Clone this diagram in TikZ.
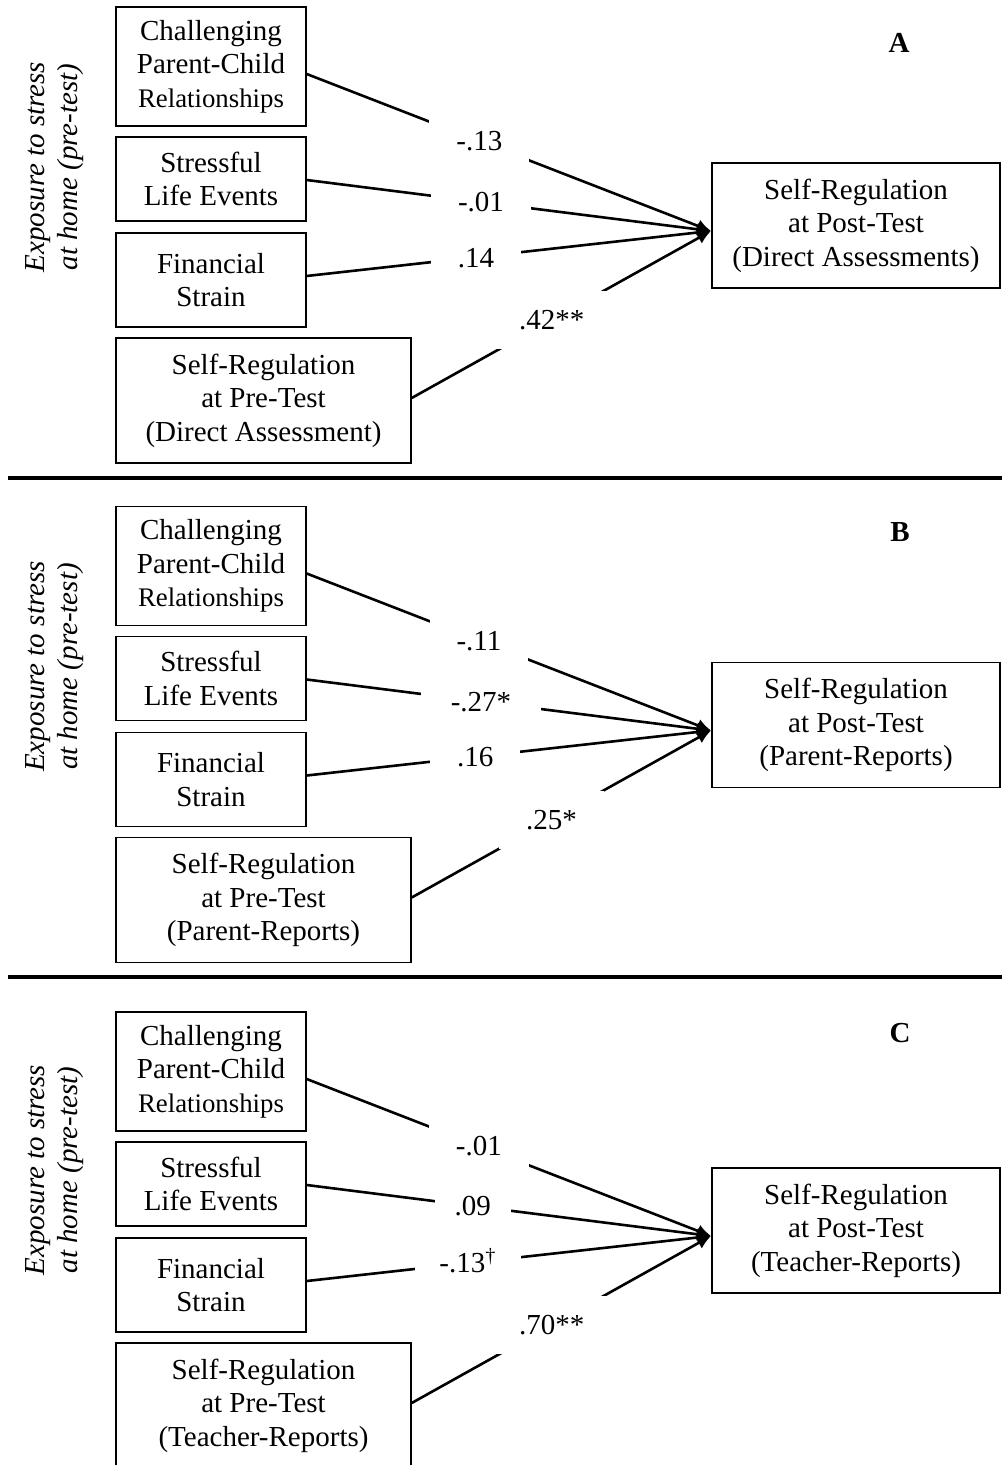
\documentclass[tikz,border=0pt]{standalone}
\usepackage{fontspec}
\setmainfont{Liberation Serif}
\usetikzlibrary{arrows.meta,calc}
\begin{document}
\begin{tikzpicture}[x=0.5pt,y=-0.5pt,
  box/.style={draw,line width=0.7pt,inner sep=0pt,align=center,
    font=\fontsize{14.5}{16.75}\selectfont},
  inbox/.style={box,minimum width=95pt},
  prebox/.style={box,minimum width=147.5pt,minimum height=62.5pt},
  postbox/.style={box,minimum width=144pt,minimum height=62.5pt},
  lbl/.style={fill=white,inner xsep=13.5pt,inner ysep=0pt,minimum height=29pt,
    text height=9.9pt,text depth=0pt,font=\fontsize{14.5}{17}\selectfont},
  conn/.style={line width=1.3pt,-{Latex[length=7pt,width=6.5pt]}},
  sepline/.style={line width=2pt},
  ptitle/.style={font=\fontsize{14.5}{17}\selectfont\bfseries},
  side/.style={rotate=90,align=center,font=\fontsize{14.5}{16.5}\selectfont\itshape}]
\clip (0,0) rectangle (1002,1465);
\newcommand\relsmall{{\fontsize{13.4}{16}\selectfont Relationships}}

% ---------------- Panel A ----------------
\node[side] (sa) at (55,167) {Exposure to stress\\at home (pre-test)};
\node[ptitle] (ta) at (899,43) {A};
\node[inbox,minimum height=59.5pt] (a1) at (211,66.5) {Challenging\\Parent-Child\\\relsmall};
\node[inbox,minimum height=42pt] (a2) at (211,179) {Stressful\\Life Events};
\node[inbox,minimum height=47pt] (a3) at (211,280) {Financial\\Strain};
\node[prebox] (a4) at (263.5,400.5) {Self-Regulation\\at Pre-Test\\(Direct Assessment)};
\node[postbox] (ap) at (856,225.5) {Self-Regulation\\at Post-Test\\(Direct Assessments)};
\coordinate (at) at (711,231);
\draw[conn] ($(a1.east)+(0,7.5)$) -- node[lbl,pos=.427] {-.13} (at);
\draw[conn] ($(a2.east)+(0,1)$) -- node[lbl,pos=.431] {-.01} (at);
\draw[conn] ($(a3.east)+(0,-4)$) -- node[lbl,pos=.419] {.14} (at);
\draw[conn] ($(a4.east)+(0,-2.5)$) -- node[lbl,pos=.468] {.42**} (at);
\coordinate (s1l) at (8,477.5);
\coordinate (s1r) at (1002,477.5);
\draw[sepline] (s1l) -- (s1r);

% ---------------- Panel B ----------------
\begin{scope}[shift={(0,499.5)}]
\node[side] (sb) at (55,167) {Exposure to stress\\at home (pre-test)};
\node[ptitle] (tb) at (900,32.5) {B};
\node[inbox,minimum height=59.5pt] (b1) at (211,66.5) {Challenging\\Parent-Child\\\relsmall};
\node[inbox,minimum height=42pt] (b2) at (211,179) {Stressful\\Life Events};
\node[inbox,minimum height=47pt] (b3) at (211,280) {Financial\\Strain};
\node[prebox] (b4) at (263.5,400.5) {Self-Regulation\\at Pre-Test\\(Parent-Reports)};
\node[postbox] (bp) at (856,225.5) {Self-Regulation\\at Post-Test\\(Parent-Reports)};
\coordinate (bt) at (711,231);
\draw[conn] ($(b1.east)+(0,7.5)$) -- node[lbl,pos=.426] {-.11} (bt);
\draw[conn] ($(b2.east)+(0,1)$) -- node[lbl,pos=.431,inner xsep=15pt] {-.27*} (bt);
\draw[conn] ($(b3.east)+(0,-4)$) -- node[lbl,pos=.417] {.16} (bt);
\draw[conn] ($(b4.east)+(0,-2.5)$) -- node[lbl,pos=.467] {.25*} (bt);
\coordinate (s2l) at (8,477.5);
\coordinate (s2r) at (1002,477.5);
\draw[sepline] (s2l) -- (s2r);
\end{scope}

% ---------------- Panel C ----------------
\begin{scope}[shift={(0,1005)}]
\node[side] (sc) at (55,165) {Exposure to stress\\at home (pre-test)};
\node[ptitle] (tc) at (900,28) {C};
\node[inbox,minimum height=59.5pt] (c1) at (211,66.5) {Challenging\\Parent-Child\\\relsmall};
\node[inbox,minimum height=42pt] (c2) at (211,179) {Stressful\\Life Events};
\node[inbox,minimum height=47pt] (c3) at (211,280) {Financial\\Strain};
\node[prebox] (c4) at (263.5,400.5) {Self-Regulation\\at Pre-Test\\(Teacher-Reports)};
\node[postbox] (cp) at (856,225.5) {Self-Regulation\\at Post-Test\\(Teacher-Reports)};
\coordinate (ct) at (711,231);
\draw[conn] ($(c1.east)+(0,7.5)$) -- node[lbl,pos=.426] {-.01} (ct);
\draw[conn] ($(c2.east)+(0,1)$) -- node[lbl,pos=.411,inner xsep=10pt] {.09} (ct);
\draw[conn] ($(c3.east)+(0,-4)$) -- node[lbl,pos=.399,inner xsep=12pt] {-.13\textsuperscript{†}} (ct);
\draw[conn] ($(c4.east)+(0,-2.5)$) -- node[lbl,pos=.468] {.70**} (ct);
\end{scope}
\end{tikzpicture}
\end{document}
